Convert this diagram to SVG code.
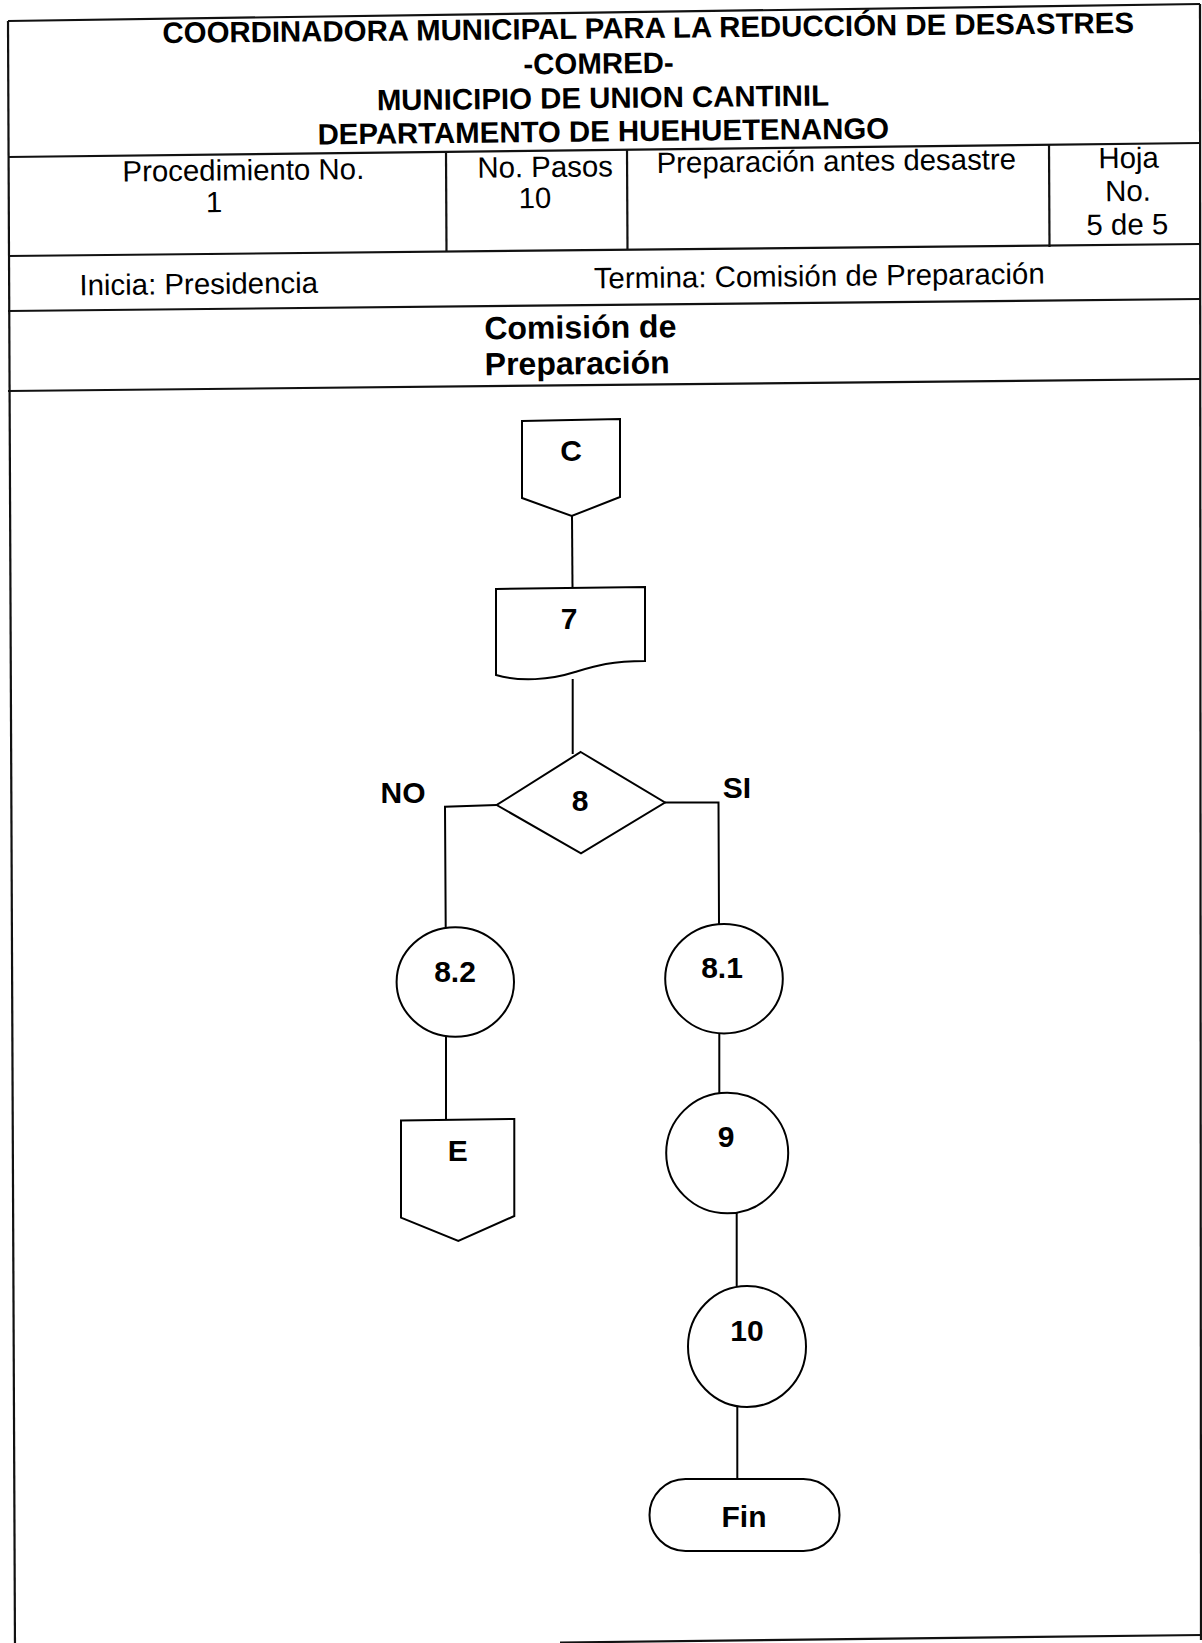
<svg xmlns="http://www.w3.org/2000/svg" width="1202" height="1643" viewBox="0 0 1202 1643">
<style>
  .ln { stroke: #000; stroke-width: 2; fill: none; }
  .tl { stroke: #111; stroke-width: 2.2; fill: none; }
  .shape { stroke: #000; stroke-width: 2; fill: #fff; }
  .t { font-family: "Liberation Sans", Arial, sans-serif; font-size: 29.4px; fill: #000; }
  .tb { font-family: "Liberation Sans", Arial, sans-serif; font-size: 29.4px; font-weight: bold; fill: #000; }
  .hb { font-family: "Liberation Sans", Arial, sans-serif; font-size: 32px; font-weight: bold; fill: #000; }
  .fl { font-family: "Liberation Sans", Arial, sans-serif; font-size: 30px; font-weight: bold; fill: #000; text-anchor: middle; }
  .c { text-anchor: middle; }
</style>
<rect width="1202" height="1643" fill="#fff"/>

<g id="table">
  <line class="tl" x1="8" y1="21" x2="1200" y2="4"/>
  <line class="tl" x1="8" y1="21" x2="15" y2="1650"/>
  <line class="tl" x1="1200" y1="4" x2="1201" y2="1640"/>
  <line class="tl" x1="560" y1="1642.5" x2="1202" y2="1635"/>
  <line class="tl" x1="8" y1="157" x2="1200" y2="143"/>
  <line class="tl" x1="8" y1="256" x2="1200" y2="244"/>
  <line class="tl" x1="8" y1="311" x2="1200" y2="299"/>
  <line class="tl" x1="8" y1="391" x2="1200" y2="379"/>
  <line class="tl" x1="446" y1="152" x2="446.5" y2="252"/>
  <line class="tl" x1="627" y1="150" x2="627.5" y2="250"/>
  <line class="tl" x1="1049" y1="145" x2="1049.5" y2="247"/>
</g>

<g id="header-text" transform="rotate(-0.6 600 200)">
  <text class="tb c" x="650" y="38.5">COORDINADORA MUNICIPAL PARA LA REDUCCIÓN DE DESASTRES</text>
  <text class="tb c" x="600" y="73.5">-COMRED-</text>
  <text class="tb c" x="604" y="108">MUNICIPIO DE UNION CANTINIL</text>
  <text class="tb c" x="604" y="141.5">DEPARTAMENTO DE HUEHUETENANGO</text>
  <text class="t c" x="243.7" y="176.5">Procedimiento No.</text>
  <text class="t c" x="214" y="208">1</text>
  <text class="t c" x="545.5" y="176.4">No. Pasos</text>
  <text class="t c" x="535" y="207.3">10</text>
  <text class="t" x="657" y="173.5">Preparación antes desastre</text>
  <text class="t c" x="1129" y="173.5">Hoja</text>
  <text class="t c" x="1128" y="206.5">No.</text>
  <text class="t c" x="1127" y="240">5 de 5</text>
  <text class="t" x="78.6" y="289.8">Inicia: Presidencia</text>
  <text class="t" x="593" y="288.3">Termina: Comisión de Preparación</text>
  <text class="hb" x="483" y="338">Comisión de</text>
  <text class="hb" x="483" y="374">Preparación</text>
</g>

<g id="connectors">
  <polyline class="ln" points="572,516 572.5,588"/>
  <polyline class="ln" points="572.7,679 572.7,754"/>
  <polyline class="ln" points="496.7,805 445,806.7 445.7,927"/>
  <polyline class="ln" points="665,802.5 718.5,802.5 719,924"/>
  <polyline class="ln" points="446,1037 446,1120"/>
  <polyline class="ln" points="719.3,1033 719.3,1093"/>
  <polyline class="ln" points="736.7,1213 736.7,1286"/>
  <polyline class="ln" points="737.3,1407 737.3,1479"/>
</g>

<g id="node-C">
  <polygon class="shape" points="522,421 620,419 620,497 571.7,516 522,498"/>
  <text class="fl" x="571" y="461">C</text>
</g>
<g id="node-7">
  <path class="shape" d="M496,589 L645,587 L645,661 C610,661 595,666 575,672 C550,680 520,682 496,675 Z"/>
  <text class="fl" x="569" y="629">7</text>
</g>
<g id="node-8">
  <polygon class="shape" points="580.7,752 665,802.5 581,853.3 496.7,805"/>
  <text class="fl" x="580" y="811">8</text>
</g>
<g id="label-NO">
  <text class="fl" x="403" y="803">NO</text>
</g>
<g id="label-SI">
  <text class="fl" x="737" y="798">SI</text>
</g>
<g id="node-8-2">
  <ellipse class="shape" cx="455.3" cy="982" rx="58.7" ry="54.7"/>
  <text class="fl" x="455" y="982">8.2</text>
</g>
<g id="node-8-1">
  <ellipse class="shape" cx="724" cy="978.7" rx="58.8" ry="54.7"/>
  <text class="fl" x="722" y="978">8.1</text>
</g>
<g id="node-E">
  <polygon class="shape" points="401,1120.5 514.3,1119 514.3,1216 458.3,1241 401,1217.7"/>
  <text class="fl" x="457.7" y="1161">E</text>
</g>
<g id="node-9">
  <ellipse class="shape" cx="727.2" cy="1153" rx="61" ry="60.3"/>
  <text class="fl" x="726" y="1147">9</text>
</g>
<g id="node-10">
  <ellipse class="shape" cx="747" cy="1346.5" rx="59" ry="60.5"/>
  <text class="fl" x="747" y="1341">10</text>
</g>
<g id="node-Fin">
  <rect class="shape" x="649.5" y="1479" width="190" height="72" rx="36" ry="36"/>
  <text class="fl" x="744" y="1527">Fin</text>
</g>
</svg>
